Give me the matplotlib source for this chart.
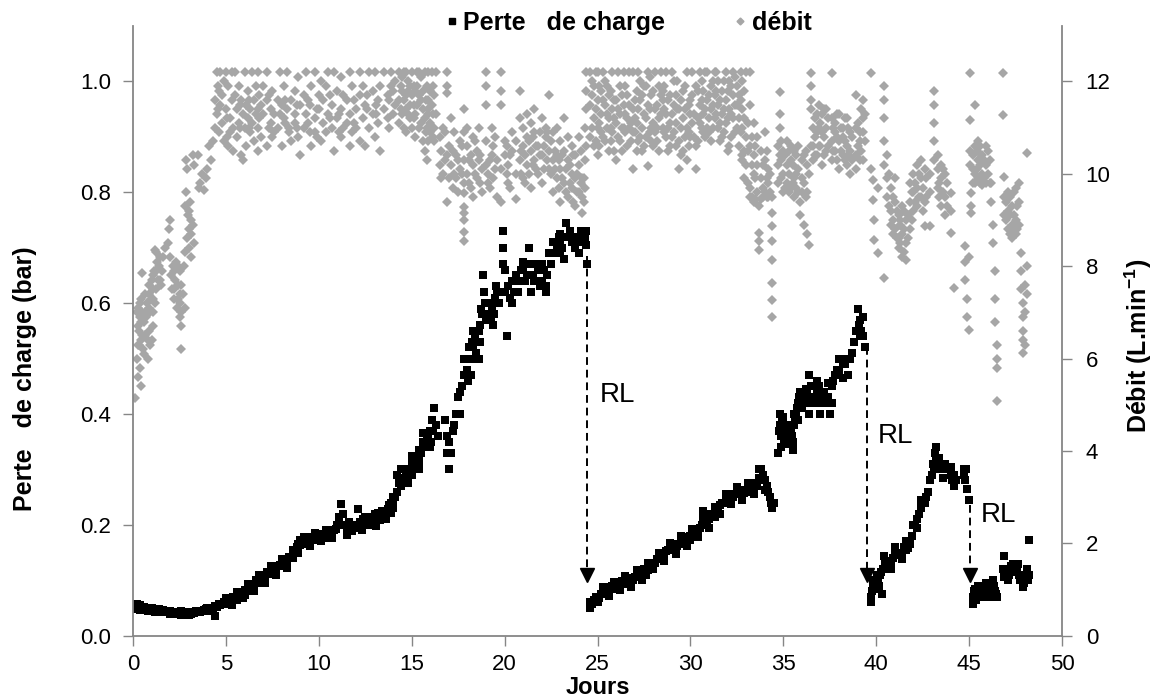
import matplotlib.pyplot as plt
from matplotlib.lines import Line2D

plt.rcParams['font.family'] = ['Liberation Sans', 'DejaVu Sans']
plt.rcParams['mathtext.fontset'] = 'custom'
plt.rcParams['mathtext.rm'] = 'Liberation Sans'
plt.rcParams['mathtext.bf'] = 'Liberation Sans:bold'

# Perte de charge (bar) : (jour, [valeurs lues])
perte_cycle1 = [
    (0.2, [0.058, 0.048]), (0.4, [0.055, 0.047]), (0.6, [0.052]), (0.8, [0.05, 0.045]),
    (1.0, [0.05]), (1.2, [0.047, 0.043]), (1.4, [0.048]), (1.6, [0.046, 0.042]),
    (1.8, [0.045]), (2.0, [0.044, 0.04]), (2.2, [0.043]), (2.4, [0.042]),
    (2.6, [0.045, 0.037]), (2.8, [0.041]), (3.0, [0.043, 0.038]), (3.2, [0.042]),
    (3.4, [0.044]), (3.6, [0.043]), (3.8, [0.047]), (4.0, [0.05, 0.045]), (4.2, [0.05]),
    (4.4, [0.035, 0.053]), (4.6, [0.057]), (4.8, [0.058]), (5.0, [0.063, 0.057]),
    (5.2, [0.066]), (5.4, [0.07]), (5.6, [0.072, 0.065]), (5.8, [0.078]),
    (6.0, [0.082, 0.074]), (6.2, [0.088]), (6.4, [0.092, 0.084]), (6.6, [0.1]),
    (6.8, [0.102]), (7.0, [0.108, 0.1]), (7.2, [0.115]), (7.4, [0.12]),
    (7.6, [0.122, 0.115]), (7.8, [0.126]), (8.0, [0.132, 0.125]), (8.2, [0.138]),
    (8.4, [0.142]), (8.6, [0.148, 0.14]), (8.8, [0.16]), (9.0, [0.172, 0.163]),
    (9.2, [0.17]), (9.4, [0.175, 0.166]), (9.6, [0.178]), (9.8, [0.18, 0.172]),
    (10.0, [0.183]), (10.2, [0.18]), (10.4, [0.186, 0.176]), (10.6, [0.183]),
    (10.8, [0.19]), (11.0, [0.2]), (11.1, [0.215]), (11.2, [0.238]), (11.3, [0.22]),
    (11.4, [0.2]), (11.5, [0.19]), (11.7, [0.195]), (11.8, [0.188]), (12.0, [0.2]),
    (12.1, [0.228]), (12.2, [0.205]), (12.4, [0.2]), (12.5, [0.215]), (12.6, [0.205]),
    (12.8, [0.21]), (13.0, [0.22, 0.205]), (13.2, [0.215]), (13.4, [0.225]),
    (13.6, [0.21, 0.222]), (13.8, [0.235]), (14.0, [0.245, 0.23]), (14.2, [0.26, 0.29]),
    (14.4, [0.27]), (14.6, [0.28, 0.3]), (14.8, [0.29]), (15.0, [0.31, 0.29]),
    (15.2, [0.32]), (15.4, [0.335, 0.315]), (15.6, [0.35]), (15.8, [0.355, 0.34]),
    (16.0, [0.37]), (16.1, [0.39]), (16.2, [0.41]), (16.3, [0.38]), (16.4, [0.36]),
    (16.8, [0.39]), (16.9, [0.36, 0.33]), (17.0, [0.3, 0.35]), (17.2, [0.37]),
    (17.4, [0.4]), (17.5, [0.43]), (17.6, [0.44, 0.4]), (17.8, [0.47]), (17.9, [0.5]),
    (18.0, [0.48]), (18.1, [0.52]), (18.2, [0.5]), (18.3, [0.52]), (18.4, [0.54]),
    (18.5, [0.53]), (18.6, [0.55]), (18.7, [0.56]), (18.8, [0.58]), (18.85, [0.65]),
    (18.9, [0.62]), (18.95, [0.6]), (19.0, [0.57]), (19.1, [0.58]), (19.2, [0.6]),
    (19.3, [0.59]), (19.4, [0.6]), (19.5, [0.61]), (19.6, [0.62]), (19.7, [0.6]),
    (19.9, [0.73, 0.70, 0.67]), (20.0, [0.62]), (20.1, [0.54]), (20.2, [0.63]),
    (20.4, [0.64]), (20.5, [0.62]), (20.6, [0.65]), (20.8, [0.64]), (21.0, [0.66]),
    (21.2, [0.65]), (21.3, [0.7]), (21.4, [0.67]), (21.5, [0.65]), (21.6, [0.64]),
    (21.8, [0.66]), (22.0, [0.64]), (22.2, [0.63]), (22.3, [0.65]), (22.4, [0.69]),
    (22.5, [0.67]), (22.6, [0.71]), (22.8, [0.7]), (23.0, [0.71, 0.69]), (23.2, [0.72]),
    (23.3, [0.745]), (23.4, [0.72]), (23.6, [0.71]), (23.7, [0.72]), (23.8, [0.7]),
    (24.0, [0.72]), (24.2, [0.71]), (24.4, [0.73, 0.705]), (24.45, [0.67]),
    # points intermédiaires
    (0.3, [0.052]), (0.5, [0.05]), (0.7, [0.048]), (0.9, [0.047]), (1.1, [0.046]),
    (1.3, [0.045]), (1.5, [0.044]), (1.7, [0.043]), (1.9, [0.042]), (2.1, [0.041]),
    (2.3, [0.04]), (2.5, [0.041]), (2.7, [0.039]), (2.9, [0.04]), (3.1, [0.04]),
    (3.3, [0.041]), (3.5, [0.042]), (3.7, [0.045]), (3.9, [0.048]), (4.1, [0.046]),
    (4.3, [0.05]), (4.5, [0.052]), (4.7, [0.055]), (4.9, [0.06]), (5.1, [0.06]),
    (5.3, [0.064]), (5.5, [0.066]), (5.7, [0.07]), (5.9, [0.076]), (6.1, [0.08]),
    (6.3, [0.085]), (6.5, [0.09]), (6.7, [0.095]), (6.9, [0.105]), (7.1, [0.11]),
    (7.3, [0.112]), (7.5, [0.118]), (7.7, [0.12]), (7.9, [0.128]), (8.1, [0.13]),
    (8.3, [0.135]), (8.5, [0.14]), (8.7, [0.152]), (8.9, [0.165]), (9.1, [0.168]),
    (9.3, [0.172]), (9.5, [0.17]), (9.7, [0.174]), (9.9, [0.178]), (10.1, [0.176]),
    (10.3, [0.182]), (10.5, [0.18]), (10.7, [0.186]), (10.9, [0.192]), (11.6, [0.198]),
    (11.9, [0.194]), (12.3, [0.198]), (12.7, [0.2]), (12.9, [0.215]), (13.1, [0.21]),
    (13.3, [0.208]), (13.5, [0.218]), (13.7, [0.228]), (13.9, [0.24]), (14.1, [0.25]),
    (14.3, [0.275]), (14.5, [0.285]), (14.7, [0.295]), (14.9, [0.3]), (15.1, [0.305]),
    (15.3, [0.325]), (15.5, [0.33]), (15.7, [0.345]), (15.9, [0.36]), (16.05, [0.35]),
    (16.15, [0.37]), (17.1, [0.33]), (17.3, [0.38]), (17.7, [0.45]), (18.05, [0.46]),
    (18.25, [0.53]), (18.45, [0.51]), (18.65, [0.53]), (18.75, [0.59]), (19.05, [0.6]),
    (19.25, [0.57]), (19.45, [0.58]), (19.55, [0.63]), (19.75, [0.62]), (20.3, [0.61]),
    (20.7, [0.62]), (20.9, [0.66]), (21.1, [0.64]), (21.7, [0.67]), (21.9, [0.63]),
    (22.1, [0.66]), (22.7, [0.69]), (22.9, [0.72]), (23.1, [0.7]), (23.5, [0.73]),
    (23.9, [0.71]), (24.1, [0.73]), (24.3, [0.72]),
]
perte_cycle2 = [
    (24.6, [0.05, 0.06]), (24.8, [0.065]), (25.0, [0.07, 0.06]), (25.2, [0.075]),
    (25.4, [0.08]), (25.6, [0.085, 0.078]), (25.8, [0.09]), (26.0, [0.088]),
    (26.2, [0.095]), (26.4, [0.093]), (26.6, [0.1]), (26.8, [0.097]), (27.0, [0.105]),
    (27.2, [0.11]), (27.4, [0.115]), (27.6, [0.12, 0.11]), (27.8, [0.125]),
    (28.0, [0.13]), (28.2, [0.138]), (28.4, [0.14]), (28.6, [0.15, 0.142]),
    (28.8, [0.155]), (29.0, [0.16]), (29.2, [0.158]), (29.4, [0.165]), (29.6, [0.17]),
    (29.8, [0.175]), (30.0, [0.18, 0.172]), (30.2, [0.185]), (30.4, [0.19]),
    (30.6, [0.2]), (30.8, [0.22, 0.2]), (31.0, [0.21]), (31.2, [0.22]), (31.4, [0.225]),
    (31.6, [0.235]), (31.8, [0.24]), (32.0, [0.248]), (32.2, [0.25]), (32.4, [0.255]),
    (32.6, [0.255]), (32.8, [0.26]), (33.0, [0.26]), (33.2, [0.265]), (33.4, [0.27]),
    (33.6, [0.27]), (33.8, [0.3]), (33.9, [0.29]), (34.0, [0.28]), (34.1, [0.27]),
    (34.2, [0.26]), (34.3, [0.25]), (34.4, [0.23]), (34.5, [0.24]),
    (34.7, [0.33]), (34.8, [0.38, 0.4]), (34.9, [0.36]), (35.0, [0.37]), (35.1, [0.35]),
    (35.2, [0.38]), (35.3, [0.36]), (35.4, [0.37]), (35.5, [0.35, 0.335]), (35.6, [0.38]),
    (35.7, [0.4]), (35.8, [0.42]), (35.9, [0.44]), (36.0, [0.41]), (36.2, [0.42]),
    (36.4, [0.43, 0.47]), (36.5, [0.45]), (36.6, [0.42]), (36.8, [0.44]), (37.0, [0.42]),
    (37.2, [0.44]), (37.4, [0.43]), (37.5, [0.4]), (37.6, [0.45]), (37.8, [0.47]),
    (38.0, [0.48]), (38.1, [0.5]), (38.3, [0.49]), (38.5, [0.47]), (38.6, [0.5]),
    (38.8, [0.53]), (38.9, [0.55]), (39.0, [0.59]), (39.1, [0.57]), (39.2, [0.55]),
    (39.3, [0.575, 0.54]), (39.4, [0.52]),
    # points intermédiaires
    (24.7, [0.058]), (24.9, [0.07]), (25.1, [0.068]), (25.3, [0.078]), (25.5, [0.083]),
    (25.7, [0.088]), (25.9, [0.084]), (26.1, [0.092]), (26.3, [0.098]), (26.5, [0.095]),
    (26.7, [0.104]), (26.9, [0.1]), (27.1, [0.108]), (27.3, [0.113]), (27.5, [0.12]),
    (27.7, [0.118]), (27.9, [0.13]), (28.1, [0.132]), (28.3, [0.14]), (28.5, [0.148]),
    (28.7, [0.152]), (28.9, [0.158]), (29.1, [0.165]), (29.3, [0.162]), (29.5, [0.17]),
    (29.7, [0.175]), (29.9, [0.178]), (30.1, [0.18]), (30.3, [0.19]), (30.5, [0.195]),
    (30.7, [0.21]), (30.9, [0.205]), (31.1, [0.22]), (31.3, [0.215]), (31.5, [0.232]),
    (31.7, [0.24]), (31.9, [0.245]), (32.1, [0.255]), (32.3, [0.25]), (32.5, [0.26]),
    (32.7, [0.262]), (32.9, [0.258]), (33.1, [0.268]), (33.3, [0.262]), (33.5, [0.275]),
    (33.7, [0.285]), (34.35, [0.24]), (34.75, [0.37]), (34.85, [0.34]), (34.95, [0.39]),
    (35.05, [0.35]), (35.15, [0.37]), (35.35, [0.38]), (35.45, [0.36]), (35.65, [0.39]),
    (35.75, [0.41]), (35.85, [0.43]), (36.1, [0.43]), (36.3, [0.44]), (36.7, [0.43]),
    (36.9, [0.45]), (37.1, [0.43]), (37.3, [0.42]), (37.7, [0.46]), (37.9, [0.48]),
    (38.2, [0.49]), (38.4, [0.5]), (38.7, [0.51]), (39.05, [0.56]), (39.15, [0.54]),
]
perte_cycle3 = [
    (39.7, [0.06, 0.07]), (39.8, [0.09]), (39.9, [0.1]), (40.0, [0.085]), (40.1, [0.1]),
    (40.2, [0.11]), (40.3, [0.075]), (40.4, [0.12, 0.143]), (40.6, [0.125]),
    (40.8, [0.13]), (41.0, [0.145]), (41.2, [0.15]), (41.4, [0.15]), (41.6, [0.155]),
    (41.8, [0.165]), (41.9, [0.18]), (42.0, [0.2]), (42.2, [0.21]), (42.4, [0.23]),
    (42.6, [0.24]), (42.8, [0.26]), (42.9, [0.28]), (43.0, [0.29]), (43.1, [0.3]),
    (43.2, [0.34, 0.32]), (43.3, [0.31]), (43.4, [0.3]), (43.6, [0.3]), (43.7, [0.31]),
    (43.8, [0.3]), (44.0, [0.29]), (44.1, [0.28]), (44.2, [0.29]), (44.7, [0.3]),
    (44.8, [0.28]), (44.9, [0.265]), (45.0, [0.245]),
    (39.75, [0.08]), (39.85, [0.1]), (39.95, [0.09]), (40.05, [0.11]), (40.15, [0.09]),
    (40.25, [0.115]), (40.35, [0.12]), (40.45, [0.13]), (40.5, [0.12]), (40.7, [0.135]),
    (40.9, [0.14]), (41.1, [0.15]), (41.3, [0.145]), (41.5, [0.16]), (41.7, [0.158]),
    (42.1, [0.2]), (42.3, [0.22]), (42.5, [0.24]), (42.7, [0.25]), (43.05, [0.31]),
    (43.15, [0.33]), (43.5, [0.31]), (43.9, [0.3]), (44.3, [0.28]), (44.75, [0.29]),
    (44.85, [0.3]),
]
perte_cycle4 = [
    (45.2, [0.07, 0.058]), (45.3, [0.085]), (45.4, [0.075]), (45.5, [0.09]), (45.6, [0.08]),
    (45.7, [0.07]), (45.8, [0.085]), (45.9, [0.095]), (46.0, [0.08]), (46.1, [0.07]),
    (46.2, [0.09]), (46.3, [0.1]), (46.4, [0.08]), (46.5, [0.07]), (46.8, [0.12]),
    (46.9, [0.143, 0.105]), (47.0, [0.11]), (47.1, [0.1]), (47.2, [0.115]),
    (47.3, [0.12]), (47.4, [0.125]), (47.5, [0.13]), (47.6, [0.12]), (47.7, [0.11]),
    (47.8, [0.1]), (47.9, [0.088]), (48.0, [0.1]), (48.1, [0.12]), (48.2, [0.173, 0.11]),
    (45.25, [0.08]), (45.35, [0.065]), (45.45, [0.085]), (45.55, [0.07]), (45.65, [0.09]),
    (45.75, [0.08]), (45.85, [0.07]), (45.95, [0.085]), (46.05, [0.095]), (46.15, [0.085]),
    (46.25, [0.075]), (46.35, [0.09]), (46.45, [0.075]), (47.05, [0.12]), (47.15, [0.11]),
    (47.25, [0.125]), (47.35, [0.13]), (47.45, [0.115]), (47.55, [0.125]), (47.65, [0.13]),
    (47.75, [0.1]), (47.85, [0.11]), (47.95, [0.095]), (48.05, [0.11]), (48.15, [0.1]),
]
# bords hauts et bas du nuage de points
perte_bords = [
    (5.0, [0.068]), (5.3, [0.055]), (5.6, [0.078]), (5.9, [0.068]), (6.2, [0.094]),
    (6.5, [0.08]), (6.8, [0.11]), (7.1, [0.095]), (7.4, [0.126]), (7.7, [0.11]),
    (8.0, [0.138]), (8.3, [0.122]), (8.6, [0.155]), (8.9, [0.15]), (9.2, [0.178]),
    (9.5, [0.162]), (9.8, [0.186]), (10.1, [0.17]), (10.4, [0.19]), (10.7, [0.176]),
    (11.5, [0.182]), (11.6, [0.205]), (12.3, [0.19]), (12.4, [0.21]), (13.1, [0.198]),
    (13.2, [0.222]), (13.9, [0.222]), (14.0, [0.25]), (14.4, [0.3]), (14.8, [0.275]),
    (15.0, [0.325]), (15.4, [0.3]), (15.6, [0.365]), (16.0, [0.34]), (17.8, [0.5]),
    (18.2, [0.47]), (18.3, [0.55]), (18.6, [0.5]), (19.4, [0.56]), (20.0, [0.66]),
    (20.4, [0.6]), (21.0, [0.675]), (21.4, [0.62]), (22.0, [0.67]), (22.2, [0.62]),
    (23.0, [0.725]), (23.2, [0.68]), (24.0, [0.69]),
    (25.3, [0.088]), (25.6, [0.072]), (25.9, [0.097]), (26.2, [0.082]), (26.5, [0.108]),
    (26.8, [0.088]), (27.1, [0.118]), (27.4, [0.1]), (27.7, [0.132]), (28.0, [0.12]),
    (28.3, [0.15]), (28.6, [0.135]), (28.9, [0.168]), (29.2, [0.148]), (29.5, [0.18]),
    (29.8, [0.162]), (30.1, [0.192]), (30.4, [0.178]), (30.7, [0.225]), (31.0, [0.195]),
    (31.3, [0.232]), (31.6, [0.22]), (31.9, [0.255]), (32.2, [0.238]), (32.5, [0.268]),
    (32.8, [0.245]), (33.1, [0.275]), (33.4, [0.255]), (33.7, [0.3]), (34.0, [0.262]),
    (35.0, [0.395]), (35.2, [0.345]), (35.6, [0.4]), (35.8, [0.39]), (36.2, [0.445]),
    (36.4, [0.4]), (36.8, [0.46]), (37.0, [0.4]), (37.4, [0.455]), (37.6, [0.42]),
    (38.0, [0.5]), (38.2, [0.465]),
    (40.8, [0.12]), (41.0, [0.16]), (41.4, [0.138]), (41.6, [0.17]), (42.2, [0.195]),
    (42.4, [0.245]), (43.4, [0.32]), (43.6, [0.285]), (44.0, [0.305]), (44.2, [0.27]),
]

# Débit (L/min) : (jour, [valeurs lues])
debit_demarrage = [
    (0.1, [5.15]), (0.2, [6.0, 7.0]), (0.25, [5.6, 6.3, 6.7, 7.1]), (0.3, [6.3, 6.6]),
    (0.35, [6.9]), (0.4, [7.2, 5.8]), (0.45, [5.4, 6.4, 6.8, 7.3]), (0.5, [6.5, 7.0, 7.85]),
    (0.55, [6.2]), (0.6, [6.8, 6.1]), (0.65, [7.4, 6.5, 7.0]), (0.7, [6.9]), (0.75, [7.2]),
    (0.8, [6.4, 6.0]), (0.85, [7.6, 6.6, 7.1, 7.4]), (0.9, [7.0, 6.3]), (0.95, [7.3]),
    (1.0, [7.7, 6.4]), (1.05, [6.7, 7.0, 7.3, 7.8]), (1.1, [7.5]), (1.15, [7.9]),
    (1.2, [7.2, 8.35]), (1.25, [8.3, 7.5, 7.9]), (1.3, [8.1]), (1.35, [7.7]), (1.4, [8.0]),
    (1.45, [7.7, 8.2]), (1.5, [7.6]), (1.55, [7.9]), (1.6, [8.2]), (1.7, [8.4]),
    (1.9, [8.5]), (1.95, [8.8]), (2.0, [9.0, 8.2]), (2.05, [7.8]), (2.1, [7.5]),
    (2.15, [8.0]), (2.2, [7.3, 7.9, 7.5]), (2.25, [7.7]), (2.3, [8.1]), (2.35, [7.1]),
    (2.4, [7.6, 7.3, 8.0]), (2.5, [7.9, 7.2]), (2.55, [7.4, 6.9]), (2.6, [7.0, 7.6, 6.7, 6.2]),
    (2.7, [7.4]), (2.75, [8.0]), (2.8, [8.3, 7.1, 9.3]), (2.85, [9.6, 10.3]),
    (2.9, [8.6, 10.1]), (2.95, [9.1]), (3.0, [8.8, 8.4, 9.2]), (3.05, [9.4]),
    (3.1, [8.2, 8.7, 9.0]), (3.2, [8.9, 10.4]), (3.3, [8.5, 10.2]), (3.5, [10.4]),
    (3.55, [9.7]), (3.6, [9.8]), (3.7, [10.0]), (3.8, [9.65]), (3.9, [9.9]), (4.0, [10.1]),
    (4.1, [10.6]), (4.2, [10.3]), (4.3, [10.7]),
]
debit_cycle1 = [
    (4.4, [11.6, 11.0]), (4.5, [12.2, 11.3]), (4.55, [11.9, 11.4]), (4.6, [11.8, 10.9]),
    (4.7, [12.2, 11.5]), (4.8, [11.1, 11.7]), (4.9, [10.7, 12.0]), (5.0, [11.4, 12.2]),
    (5.05, [11.2, 10.8]), (5.1, [10.6, 11.9]), (5.2, [11.2, 10.9]), (5.3, [12.2, 11.6]),
    (5.4, [11.0, 10.5]), (5.5, [11.7, 12.2]), (5.6, [11.4, 10.8]), (5.7, [11.1, 11.9]),
    (5.75, [11.5, 11.0]), (5.8, [10.4, 11.6]), (5.9, [11.3, 10.3]), (6.0, [12.2, 11.0]),
    (6.1, [11.5, 10.6]), (6.2, [11.2, 11.8]), (6.25, [11.6, 11.0]), (6.3, [10.9, 11.4]),
    (6.4, [12.2, 11.1]), (6.5, [11.6, 10.7]), (6.6, [11.3, 11.9]), (6.7, [10.5, 11.0]),
    (6.75, [11.4, 12.2]), (6.8, [11.7, 11.2]), (6.9, [10.8, 11.5]), (7.0, [11.3, 11.9]),
    (7.2, [12.2, 11.6, 10.6]), (7.3, [11.0, 11.7]), (7.4, [11.1, 11.4]), (7.5, [11.8, 10.8]),
    (7.6, [11.3, 10.9]), (7.8, [11.6, 11.0]), (7.9, [11.3, 12.2]), (8.0, [10.6, 11.5]),
    (8.1, [11.9, 11.2]), (8.2, [11.1, 11.6]), (8.3, [12.2, 11.4]), (8.4, [10.9, 11.0]),
    (8.5, [11.6, 10.7]), (8.7, [11.3, 11.1, 11.8]), (8.8, [11.5, 11.0]), (8.9, [12.1, 10.8]),
    (9.0, [11.5, 10.4]), (9.2, [11.0, 11.7]), (9.3, [12.2, 11.3]), (9.4, [11.6, 11.1]),
    (9.5, [10.9, 11.5]), (9.6, [11.9, 10.6]), (9.8, [12.2, 11.2, 10.9]), (9.9, [11.4, 10.8]),
    (10.0, [11.7, 11.4]), (10.1, [12.0, 10.7]), (10.2, [11.1, 11.6]), (10.4, [11.9, 10.9]),
    (10.5, [11.3, 12.2]), (10.6, [11.7, 11.2]), (10.7, [11.5, 11.0]), (10.8, [12.2, 10.5]),
    (11.0, [11.8, 11.2]), (11.1, [11.3, 10.9]), (11.2, [11.4, 10.8, 12.1]),
    (11.3, [11.0, 11.7]), (11.5, [11.6, 11.1]), (11.7, [12.2, 11.3, 10.6]),
    (11.8, [11.9, 10.9]), (11.9, [11.6, 11.1]), (12.0, [11.4, 11.0]),
    (12.2, [11.7, 10.7, 12.2]), (12.4, [11.2, 11.9]), (12.5, [10.6, 11.5]),
    (12.6, [11.4, 11.7]), (12.7, [12.2, 11.0]), (12.9, [11.8, 11.3]), (13.0, [12.2, 10.8]),
    (13.1, [11.3, 11.5]), (13.2, [11.6, 11.1]), (13.3, [11.9, 10.5]), (13.5, [12.2, 11.4]),
    (13.7, [11.7, 11.2]), (13.8, [11.0, 11.6]), (13.9, [12.2, 11.9]), (14.0, [11.3, 11.8]),
    (14.1, [11.5, 12.0]), (14.3, [12.2, 11.6, 11.1]), (14.4, [11.4, 11.9]),
    (14.5, [11.8, 12.1, 11.3]), (14.6, [11.6, 11.0, 12.2]), (14.7, [11.4, 12.2, 11.7, 10.9]),
    (14.8, [11.3, 11.8, 12.0]), (14.9, [11.9, 11.5, 11.2]), (15.0, [12.2, 11.0, 11.7]),
    (15.1, [11.5, 11.9, 11.2]), (15.2, [11.3, 11.8, 10.8]), (15.3, [12.2, 11.5, 11.9]),
    (15.4, [11.7, 11.0, 12.2]), (15.5, [11.1, 11.6, 12.1]), (15.6, [10.7, 11.4, 11.8]),
    (15.7, [12.2, 11.2, 10.5]), (15.75, [11.6, 10.9]), (15.8, [11.9, 11.0, 10.3]),
    (15.85, [11.4, 10.7]), (15.9, [12.2, 11.6, 11.3]), (16.0, [11.8, 11.1, 10.9]),
    (16.1, [12.2, 11.5]), (16.15, [11.9, 11.3, 10.8]), (16.2, [11.7, 11.0, 10.7]),
    (16.3, [12.2, 11.3]),
    (16.5, [10.8, 10.2]), (16.6, [10.5, 9.9]), (16.7, [10.0, 11.0]), (16.8, [10.3, 10.9]),
    (16.9, [12.2, 11.9, 11.75, 10.4, 9.4]), (17.0, [10.6, 9.9]), (17.1, [10.2, 11.2]),
    (17.2, [9.7, 10.5]), (17.3, [10.9, 10.0]), (17.4, [9.9, 10.4]), (17.5, [10.3, 9.6]),
    (17.6, [10.7, 10.1]), (17.7, [10.0, 10.6]),
    (17.8, [11.4, 10.9, 10.3, 9.8, 9.58, 9.29, 9.15, 9.0, 8.75, 8.54]),
    (18.0, [10.6, 10.0, 11.0]), (18.1, [10.3, 9.8]), (18.2, [9.7, 10.4]),
    (18.3, [10.2, 10.8, 9.5]), (18.4, [10.0, 10.7]), (18.5, [10.5, 9.9]), (18.6, [11.0, 10.3]),
    (18.7, [10.4, 9.8]), (18.8, [10.1, 9.6]), (19.0, [12.2, 11.9, 11.5, 10.7, 10.2]),
    (19.1, [10.0, 9.8]), (19.2, [10.3, 9.7]), (19.3, [10.4, 11.0]), (19.4, [9.9, 10.6]),
    (19.5, [10.1, 10.8]), (19.6, [10.3, 9.5]), (19.8, [12.2, 11.8, 11.5, 10.1, 9.4]),
    (20.0, [10.7, 10.4]), (20.1, [10.0, 10.6]), (20.2, [9.8, 10.2]), (20.3, [10.4, 9.7]),
    (20.4, [10.9, 10.5]), (20.6, [9.45, 10.0, 10.7]), (20.8, [11.8, 11.2, 10.3]),
    (20.9, [10.5, 10.0]), (21.0, [11.0, 10.6, 9.9]), (21.1, [10.4, 9.8]),
    (21.2, [11.3, 10.8, 10.2]), (21.3, [10.7, 10.0]), (21.4, [10.5, 11.1, 9.7]),
    (21.5, [10.2, 10.8]), (21.6, [10.9, 10.3, 11.4]), (21.7, [10.6, 10.1]),
    (21.8, [10.0, 10.6]), (21.9, [10.4, 10.9]), (22.0, [11.2, 10.4, 9.8]),
    (22.1, [10.6, 10.1]), (22.2, [10.8, 11.0]), (22.3, [10.3, 10.9]),
    (22.4, [11.7, 10.5, 10.1]), (22.5, [10.7, 10.0]), (22.6, [9.6, 10.9, 10.3]),
    (22.7, [10.5, 10.1]), (22.8, [11.0, 10.4, 9.9]), (22.9, [10.3, 9.7]),
    (23.0, [10.7, 10.1, 9.4]), (23.1, [10.4, 9.9]), (23.2, [11.2, 10.5, 9.8]),
    (23.3, [10.1, 9.6]), (23.4, [10.3, 10.8, 9.5]), (23.5, [10.2, 9.8]),
    (23.6, [10.0, 10.6, 9.7]), (23.7, [10.4, 9.4]), (23.8, [10.4, 9.3, 9.9]),
    (23.9, [10.0, 9.6]), (24.0, [10.2, 9.6, 10.8]), (24.1, [9.8, 10.5]),
    (24.15, [9.15, 9.5, 9.9]), (24.25, [9.4, 9.9]), (24.3, [10.3, 9.7, 11.0]),
    (24.4, [12.2, 11.8, 11.4, 10.6]),
]
debit_cycle2 = [
    (24.6, [12.2, 11.5, 10.8]), (24.7, [11.7, 11.0, 12.0]), (24.8, [11.9, 11.2, 10.6]),
    (24.9, [11.4, 10.7, 12.2]), (25.0, [12.2, 11.6, 11.0, 10.4]), (25.1, [11.9, 11.1, 10.6]),
    (25.2, [11.8, 11.3, 10.9]), (25.3, [12.2, 11.6, 10.8]), (25.4, [12.0, 11.5, 10.7]),
    (25.5, [11.3, 11.9, 11.0]), (25.6, [11.2, 11.7, 10.5]), (25.7, [11.8, 11.0, 10.7]),
    (25.8, [12.2, 11.4, 10.9]), (25.9, [11.6, 11.2, 10.5]), (26.0, [11.6, 11.1, 10.3]),
    (26.1, [12.2, 11.4, 10.8]), (26.2, [11.9, 11.3, 10.7]), (26.3, [11.7, 11.0, 10.5]),
    (26.4, [12.2, 11.5, 11.0]), (26.5, [11.9, 11.3, 10.9]), (26.6, [11.7, 11.2, 10.6]),
    (26.7, [12.2, 11.5, 11.0]), (26.8, [11.1, 10.7]), (26.9, [12.2, 11.4, 10.9, 10.1]),
    (27.0, [11.6, 11.2, 10.9]), (27.1, [11.8, 11.1, 10.5]), (27.2, [12.2, 11.4, 10.7]),
    (27.3, [12.0, 11.6, 10.8]), (27.4, [11.7, 11.0, 10.5]), (27.5, [11.3, 11.9, 10.6]),
    (27.6, [11.9, 11.2, 10.8]), (27.7, [12.2, 11.5, 10.16]), (27.8, [12.1, 11.4, 10.9]),
    (27.9, [11.7, 11.0, 10.7]), (28.0, [11.8, 11.1, 10.6]), (28.1, [12.2, 11.4, 10.9]),
    (28.2, [11.5, 11.0, 10.7]), (28.3, [11.9, 11.2, 10.5]), (28.4, [12.2, 11.7, 11.3]),
    (28.5, [11.6, 11.0, 11.8]), (28.6, [11.9, 11.4, 10.9]), (28.7, [12.2, 11.3, 10.8]),
    (28.8, [11.6, 11.0, 10.5]), (28.9, [11.7, 11.1, 10.6]), (29.0, [12.2, 11.3, 10.8]),
    (29.1, [12.0, 11.5, 10.9]), (29.2, [11.7, 11.1, 10.6]), (29.3, [12.0, 11.4]),
    (29.4, [11.4, 10.7, 10.1]), (29.5, [11.6, 11.0, 10.4]), (29.6, [11.8, 11.2, 10.5]),
    (29.7, [11.9, 11.4, 10.8]), (29.8, [12.2, 11.0, 10.3]), (29.9, [11.5, 10.9, 10.6]),
    (30.0, [11.6, 11.3, 10.8]), (30.1, [12.2, 11.7, 11.1]), (30.2, [11.3, 10.8]),
    (30.3, [11.9, 10.6, 10.1]), (30.4, [11.8, 11.2, 10.7]), (30.5, [12.2, 11.5, 11.1]),
    (30.6, [12.0, 11.6, 11.0]), (30.7, [11.8, 11.3, 10.9]), (30.8, [12.2, 11.4, 10.8]),
    (30.9, [12.2, 11.6, 11.0]), (31.0, [11.7, 11.2, 10.9]), (31.1, [11.9, 11.4, 10.7]),
    (31.2, [12.0, 11.5, 11.0]), (31.3, [12.2, 11.7, 11.2]), (31.4, [12.2, 11.8, 11.3]),
    (31.5, [12.0, 11.5, 11.0]), (31.6, [11.6, 11.1, 10.7]), (31.7, [11.8, 11.3, 10.8]),
    (31.8, [12.0, 11.4, 10.9]), (31.9, [12.2, 11.6, 11.1]), (32.0, [11.8, 11.2, 10.5]),
    (32.1, [12.0, 11.4, 10.6]), (32.2, [11.9, 11.3, 10.8]), (32.3, [12.2, 11.7, 11.2]),
    (32.4, [12.1, 11.5, 10.9]), (32.5, [11.9, 11.5, 11.0]), (32.6, [11.7, 11.2, 10.6]),
    (32.7, [12.2, 11.6, 10.9]), (32.8, [12.0, 11.4, 10.3, 11.0, 10.4]),
    (32.9, [11.8, 11.2, 10.5, 9.9]), (33.0, [12.2, 10.8, 10.2]), (33.1, [11.1, 10.5, 9.8]),
    (33.2, [12.2, 11.5, 10.6, 9.7, 9.5]), (33.3, [10.8, 10.2, 9.5]),
    (33.4, [11.1, 10.4, 10.0, 9.4]), (33.5, [10.6, 9.9, 9.45]), (33.6, [10.8, 10.2, 9.6]),
    (33.7, [8.72, 8.54, 8.35, 9.3]), (33.8, [10.5, 9.9, 9.45]), (33.9, [10.2, 9.7, 9.5]),
    (34.0, [10.9, 10.3, 9.6]), (34.1, [10.5, 9.9, 9.5]), (34.2, [10.1, 9.5, 9.8]),
    (34.3, [10.0, 9.6]), (34.4, [9.15, 8.86, 8.54, 8.14, 7.63, 7.27, 6.91, 9.5]),
    (34.7, [10.6, 10.2, 9.8]), (34.8, [11.78, 11.3, 11.0, 10.4]), (34.9, [10.3, 9.9, 10.7]),
    (35.0, [10.5, 10.0, 9.6]), (35.1, [10.4, 9.7]), (35.2, [10.7, 10.2, 9.8]),
    (35.3, [10.0, 9.6, 10.5]), (35.4, [10.3, 9.7, 10.6]), (35.5, [10.2, 9.8]),
    (35.6, [10.5, 9.9, 9.5]), (35.7, [10.4, 9.7, 10.0]), (35.8, [10.1, 10.6, 9.6]),
    (35.9, [9.1, 9.4]), (36.0, [10.3, 9.9, 9.6]), (36.1, [10.4, 9.8, 8.9]),
    (36.2, [10.5, 9.5]), (36.3, [10.2, 9.6, 8.7]), (36.4, [8.46, 10.0]),
    (36.5, [12.18, 11.9, 11.6, 11.4, 10.6]), (36.6, [11.0, 10.6, 10.3]),
    (36.7, [11.2, 10.8, 10.4]), (36.8, [11.3, 10.9, 10.4]), (36.9, [11.5, 11.0, 10.6]),
    (37.0, [11.1, 10.6]), (37.1, [11.3, 10.9, 10.2]), (37.2, [11.4, 10.8, 10.4]),
    (37.3, [11.0, 10.5, 11.4]), (37.4, [11.2, 10.6]), (37.6, [12.18, 11.2, 10.7, 10.3]),
    (37.7, [11.0, 10.5]), (37.8, [10.9, 10.5, 11.1]), (37.9, [11.3, 10.8, 10.3]),
    (38.0, [11.3, 10.7, 10.1]), (38.1, [11.0, 10.5]), (38.2, [10.8, 10.4, 11.0]),
    (38.3, [11.2, 10.7, 10.3]), (38.4, [11.2, 10.6, 10.2]), (38.5, [11.0, 10.4]),
    (38.6, [10.9, 10.0, 10.5]), (38.7, [10.8, 10.3]), (38.9, [11.7, 11.0, 10.4, 10.1]),
    (39.0, [11.1, 10.6]), (39.1, [10.7, 10.3, 10.9]), (39.2, [10.5, 11.4]),
    (39.3, [11.6, 11.2, 10.9, 10.3]), (39.4, [10.7, 11.3]), (39.7, [12.18, 10.1]),
]
debit_cycles34 = [
    (39.8, [9.87, 9.44]), (39.9, [9.0, 8.57]), (40.1, [8.28, 9.7]),
    (40.4, [11.9, 11.6, 11.2, 10.7, 7.74, 10.2]), (40.6, [10.4, 9.9, 9.5]),
    (40.7, [10.0, 9.3]), (40.8, [9.7, 9.2, 8.9]), (40.9, [9.5, 9.0, 8.7]),
    (41.0, [9.4, 8.8, 9.9]), (41.1, [9.2, 8.6]), (41.2, [9.1, 8.6, 8.4]),
    (41.3, [9.0, 8.5, 8.9]), (41.4, [9.3, 8.7, 8.2]), (41.5, [9.2, 8.8, 8.3]),
    (41.6, [9.0, 8.5, 8.14]), (41.7, [9.1, 8.6]), (41.8, [9.4, 9.8, 8.8]),
    (41.9, [9.6, 9.0]), (42.0, [9.6, 10.0, 9.2]), (42.1, [9.8, 9.4]),
    (42.2, [10.2, 9.7, 9.3]), (42.3, [10.0, 9.5]), (42.4, [9.9, 9.5, 10.3]),
    (42.5, [9.7, 9.2]), (42.6, [10.1, 9.4, 8.86]), (42.7, [9.9, 9.5]),
    (42.9, [8.86, 9.6, 10.0]), (43.1, [11.8, 11.5, 11.1, 10.7, 10.3]),
    (43.3, [10.1, 9.7, 10.4]), (43.4, [9.8, 9.5]), (43.5, [9.9, 9.3, 10.2]),
    (43.6, [10.1, 9.6]), (43.7, [10.0, 9.5, 9.1]), (43.8, [9.8, 9.3]),
    (44.0, [9.58, 9.2, 8.72]), (44.2, [7.52]), (44.8, [8.43, 8.1, 7.7]), (44.9, [7.3, 6.9]),
    (45.0, [6.62, 8.2]), (45.05, [12.18, 11.17, 10.5, 10.2]), (45.1, [9.58, 9.3, 9.15]),
    (45.2, [10.4, 10.1, 9.8]), (45.3, [11.5, 10.6, 10.0, 9.8]), (45.4, [10.5, 10.1]),
    (45.5, [10.7, 10.3, 9.9]), (45.6, [10.2, 9.8, 10.6]), (45.7, [10.4, 10.0, 9.75]),
    (45.8, [10.3, 9.9]), (45.9, [10.6, 10.2, 9.8]), (46.0, [10.5, 10.0]),
    (46.1, [10.3, 9.8]), (46.2, [9.8, 9.4]), (46.3, [8.9, 8.5]), (46.4, [7.9, 7.3, 6.8]),
    (46.5, [6.3, 6.0, 5.8, 5.08]), (46.8, [12.18, 11.28]), (46.9, [9.94, 9.5, 9.1]),
    (47.0, [9.4, 9.0]), (47.1, [9.6, 9.2, 8.8]), (47.2, [9.5, 9.1, 8.7]),
    (47.3, [9.3, 8.9, 8.6]), (47.4, [9.6, 9.1, 8.8]), (47.5, [9.7, 9.0, 8.7]),
    (47.6, [9.3, 8.8]), (47.7, [9.4, 8.9, 9.8]), (47.8, [8.28, 7.9, 7.5]),
    (47.9, [7.2, 6.9, 6.6, 6.4, 6.12]), (48.0, [7.6, 7.0, 6.3]), (48.1, [10.45, 8.0, 7.4]),
]

# Rétrolavages : (jour, départ, arrivée) et position du texte
rl_jours = [24.45, 39.49, 45.05]
rl_haut = [0.685, 0.52, 0.235]
rl_bas = [0.11, 0.11, 0.11]
rl_texte = [(25.1, 0.435), (40.1, 0.36), (45.6, 0.218)]


def deplier(groupes):
    x, y = [], []
    for jour, valeurs in groupes:
        for v in valeurs:
            x.append(jour)
            y.append(v)
    return x, y


gris = '#a6a6a6'
axe = '#868686'

fig = plt.figure(figsize=(11.54, 6.99), dpi=100)
ax = fig.add_axes([0.1153, 0.0906, 0.805, 0.8722])
ax2 = ax.twinx()

for groupe in [debit_demarrage, debit_cycle1, debit_cycle2, debit_cycles34]:
    x, y = deplier(groupe)
    ax2.plot(x, y, linestyle='none', marker='D', markersize=4.9, color=gris,
             markeredgewidth=0)

for groupe in [perte_cycle1, perte_cycle2, perte_cycle3, perte_cycle4, perte_bords]:
    x, y = deplier(groupe)
    ax.plot(x, y, linestyle='none', marker='s', markersize=6.2, color='black',
            markeredgewidth=0)

# Flèches RL
for j, h, b, (tx, ty) in zip(rl_jours, rl_haut, rl_bas, rl_texte):
    ax.plot([j, j], [h, b], color='black', linewidth=1.4, linestyle=(0, (4, 2.5)))
    ax.plot([j], [b], marker='v', markersize=10, color='black', linestyle='none')
    ax.text(tx, ty, 'RL', fontsize=20, ha='left', va='center')

ax.set_zorder(ax2.get_zorder() + 1)
ax.patch.set_visible(False)

ax.set_xlim(0, 50)
ax.set_ylim(0, 1.1)
ax2.set_ylim(0, 13.2)
ax.set_xticks(range(0, 51, 5))
ax.set_yticks([0, 0.2, 0.4, 0.6, 0.8, 1.0])
ax.set_yticklabels(['0.0', '0.2', '0.4', '0.6', '0.8', '1.0'])
ax2.set_yticks(range(0, 13, 2))

for a in (ax, ax2):
    for s in a.spines.values():
        s.set_color(axe)
        s.set_linewidth(1.3)
    a.spines['top'].set_visible(False)
ax.spines['right'].set_visible(False)
ax2.spines['left'].set_visible(False)
ax2.spines['bottom'].set_visible(False)

ax.tick_params(axis='y', direction='out', length=7, width=1, color=axe, labelsize=16, pad=9)
ax.tick_params(axis='x', direction='out', length=7, width=1, color=axe, labelsize=16, pad=6)
ax2.tick_params(axis='y', direction='out', length=7, width=1, color=axe, labelsize=16, pad=10)

ax.set_xlabel('Jours', fontsize=17, fontweight='bold')
ax.xaxis.set_label_coords(0.5, -0.066)
ax.set_ylabel('Perte   de charge (bar)', fontsize=18, fontweight='bold')
ax.yaxis.set_label_coords(-0.103, 0.421)
ax2.set_ylabel(r'Débit (L.min$^{\mathbf{-1}}$)', fontsize=18, fontweight='bold')
ax2.yaxis.set_label_coords(1.065, 0.475)

poignees = [
    Line2D([], [], linestyle='none', marker='s', markersize=5, color='black'),
    Line2D([], [], linestyle='none', marker='D', markersize=3.5, color=gris),
]
fig.legend(poignees, ['Perte   de charge', 'débit'], loc='center',
           bbox_to_anchor=(0.5442, 0.967), ncol=2, frameon=False,
           prop={'size': 18, 'weight': 'bold'}, handlelength=0.6,
           handletextpad=0.15, columnspacing=2.7)

plt.savefig('out.png', dpi=100)
plt.close()
